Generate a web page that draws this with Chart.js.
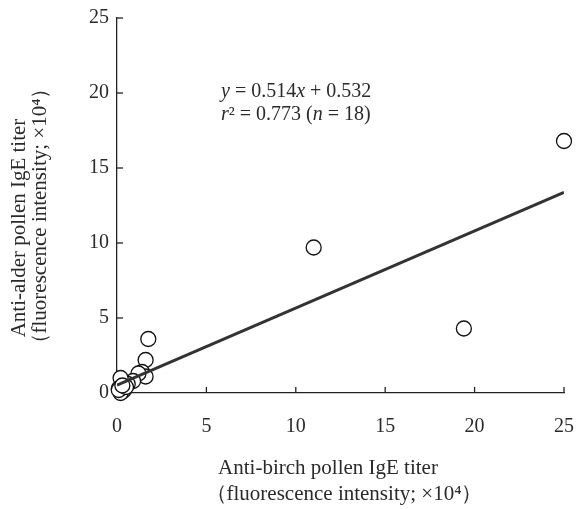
<!DOCTYPE html>
<html>
<head>
<meta charset="utf-8">
<script src="https://cdn.jsdelivr.net/npm/chart.js@4.4.0/dist/chart.umd.min.js"></script>
<style>
    html, body { margin: 0; padding: 0; background: #fff; }
    #wrap { width: 576px; height: 509px; }
</style>
</head>
<body>
<div id="wrap"><canvas id="scatterChart" width="576" height="509"></canvas></div>
<script>
// birch (x) vs alder (y), both x10^4 fluorescence intensity, n = 18
const birchTiter = [25.0, 11.0, 19.4, 1.75, 1.6, 1.4, 1.6, 1.2, 0.9, 0.6, 0.2, 0.1, 0.3, 0.4, 0.2, 0.1, 0.5, 0.3];
const alderTiter = [16.8, 9.7, 4.3, 3.6, 2.2, 1.4, 1.1, 1.3, 0.8, 0.6, 1.0, 0.3, 0.1, 0.2, 0.0, 0.2, 0.4, 0.5];
const axisTicks = [0, 5, 10, 15, 20, 25];
const slope = 0.514;
const intercept = 0.532;
const fitRange = [0, 25];

const serif = '"Liberation Serif", "DejaVu Serif", serif';
const textColor = '#2a2a2a';

const points = birchTiter.map((x, i) => ({ x: x, y: alderTiter[i] }));
const fitLine = fitRange.map(x => ({ x: x, y: slope * x + intercept }));

// inward tick marks, axis titles and the regression note
const extras = {
    id: 'extras',
    afterDraw(chart) {
        const ctx = chart.ctx;
        const xs = chart.scales.x;
        const ys = chart.scales.y;
        const area = chart.chartArea;

        ctx.save();
        ctx.strokeStyle = '#222';
        ctx.lineWidth = 1.3;
        axisTicks.forEach(v => {
            if (v === 0) return;
            const px = xs.getPixelForValue(v);
            ctx.beginPath();
            ctx.moveTo(px, area.bottom);
            ctx.lineTo(px, area.bottom - 6);
            ctx.stroke();
            const py = ys.getPixelForValue(v);
            ctx.beginPath();
            ctx.moveTo(area.left, py);
            ctx.lineTo(area.left + 6, py);
            ctx.stroke();
        });

        ctx.fillStyle = textColor;
        ctx.font = '21px ' + serif;
        ctx.textAlign = 'center';
        ctx.textBaseline = 'middle';

        // x title
        ctx.fillText('Anti-birch pollen IgE titer', 328, 468);
        ctx.fillText('（fluorescence intensity; ×10⁴）', 344, 494);

        // y title
        ctx.save();
        ctx.translate(19, 228);
        ctx.rotate(-Math.PI / 2);
        ctx.fillText('Anti-alder pollen IgE titer', 0, 0);
        ctx.restore();
        ctx.save();
        ctx.translate(40, 216);
        ctx.rotate(-Math.PI / 2);
        ctx.fillText('（fluorescence intensity; ×10⁴）', 0, 0);
        ctx.restore();

        // equation
        ctx.textAlign = 'left';
        ctx.textBaseline = 'alphabetic';
        const writeLine = (parts, x, y) => {
            parts.forEach(p => {
                ctx.font = (p[1] ? 'italic ' : '') + '20px ' + serif;
                ctx.fillText(p[0], x, y);
                x += ctx.measureText(p[0]).width;
            });
        };
        writeLine([['y', true], [' = 0.514', false], ['x', true], [' + 0.532', false]], 221, 97);
        writeLine([['r', true], ['² = 0.773 (', false], ['n', true], [' = 18)', false]], 221, 120);
        ctx.restore();
    }
};

const ctx = document.getElementById('scatterChart').getContext('2d');
const scatterChart = new Chart(ctx, {
    type: 'scatter',
    data: {
        datasets: [{
            type: 'line',
            label: 'Regression',
            data: fitLine,
            borderColor: '#333',
            borderWidth: 3,
            pointRadius: 0,
            fill: false,
            order: 0
        }, {
            label: 'Samples',
            data: points,
            pointRadius: 7.5,
            pointBackgroundColor: '#fff',
            pointBorderColor: '#111',
            pointBorderWidth: 1.3,
            clip: false,
            order: 1
        }]
    },
    options: {
        responsive: false,
        animation: false,
        layout: { padding: { top: 18, right: 12, left: 0, bottom: 0 } },
        plugins: {
            legend: { display: false },
            tooltip: { enabled: false }
        },
        scales: {
            x: {
                type: 'linear',
                min: 0,
                max: 25,
                afterFit: scale => {
                    scale.height = 116;
                    scale.paddingLeft = 0;
                    scale.paddingRight = 0;
                },
                grid: { display: false, drawTicks: false },
                border: { display: true, color: '#222', width: 1.3 },
                ticks: {
                    stepSize: 5,
                    padding: 22,
                    color: textColor,
                    font: { family: serif, size: 20 }
                }
            },
            y: {
                type: 'linear',
                min: 0,
                max: 25,
                afterFit: scale => {
                    scale.width = 117;
                    scale.paddingTop = 0;
                    scale.paddingBottom = 0;
                },
                grid: { display: false, drawTicks: false },
                border: { display: true, color: '#222', width: 1.3 },
                ticks: {
                    stepSize: 5,
                    padding: 8,
                    color: textColor,
                    font: { family: serif, size: 20 }
                }
            }
        }
    },
    plugins: [extras]
});
</script>
</body>
</html>
